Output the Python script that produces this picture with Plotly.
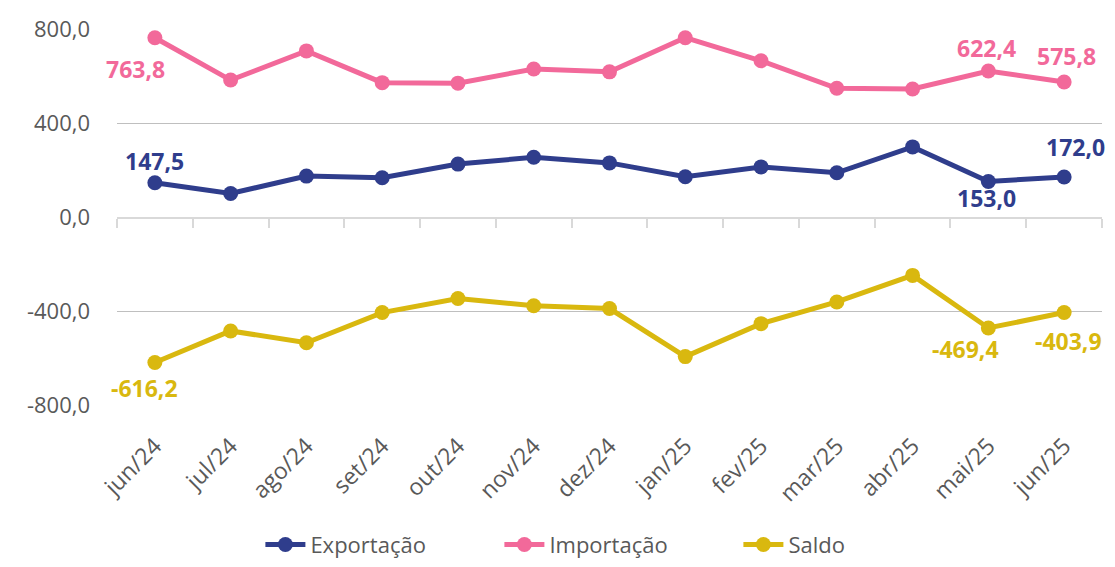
import plotly.graph_objects as go

categories = ["jun/24", "jul/24", "ago/24", "set/24", "out/24", "nov/24", "dez/24",
              "jan/25", "fev/25", "mar/25", "abr/25", "mai/25", "jun/25"]
exportacao = [147.5, 102.0, 176.0, 169.0, 227.0, 256.0, 232.0, 173.0, 215.0, 190.0, 300.0, 153.0, 172.0]
importacao = [763.8, 584.0, 708.0, 573.0, 571.0, 631.0, 619.0, 764.0, 666.0, 549.0, 546.0, 622.4, 575.8]
saldo = [-616.2, -482.0, -532.0, -404.0, -344.0, -375.0, -387.0, -591.0, -451.0, -359.0, -246.0, -469.4, -403.9]

y_tickvals = [800, 400, 0, -400, -800]
y_ticktext = ["800,0", "400,0", "0,0", "-400,0", "-800,0"]

# labelled points: index -> pixel offset of the label centre from the point (dx, dy up)
exp_labels = {0: (0, 22), 11: (-2, -17), 12: (11, 30)}
imp_labels = {0: (-19, -31), 11: (-2, 23), 12: (2, 26)}
sal_labels = {0: (-10, -25), 11: (-23, -21), 12: (4, -28)}

C_EXP = "#2f3d8c"
C_IMP = "#f2699a"
C_SAL = "#d9b80f"
GRAY = "#595959"
FONT = "Open Sans"


def fmt(v):
    return f"{v:.1f}".replace(".", ",")


fig = go.Figure()
annotations = []
for name, vals, color, labels in [
    ("Exportação", exportacao, C_EXP, exp_labels),
    ("Importação", importacao, C_IMP, imp_labels),
    ("Saldo", saldo, C_SAL, sal_labels),
]:
    fig.add_trace(go.Scatter(
        x=categories, y=vals, name=name,
        mode="lines+markers",
        line=dict(color=color, width=5),
        marker=dict(color=color, size=15),
        cliponaxis=False,
        hoverinfo="skip",
    ))
    for i, (dx, dy) in labels.items():
        annotations.append(dict(
            x=categories[i], y=vals[i], xref="x", yref="y",
            text=fmt(vals[i]), showarrow=False,
            xanchor="center", yanchor="middle", xshift=dx, yshift=dy,
            font=dict(family=FONT, size=23, color=color, weight="bold"),
        ))

# invisible trace for the tick-mark axis at y = 0
fig.add_trace(go.Scatter(x=categories, y=[0] * len(categories), xaxis="x2",
                         mode="lines", line=dict(width=0), showlegend=False,
                         hoverinfo="skip"))

fig.update_layout(
    width=1107, height=559,
    paper_bgcolor="white", plot_bgcolor="white",
    margin=dict(l=109, r=13, t=21, b=161, autoexpand=False),
    font=dict(family=FONT, color=GRAY),
    showlegend=True,
    annotations=annotations,
    legend=dict(orientation="h", xref="container", yref="container",
                x=0.228, xanchor="left", y=0.04, yanchor="middle",
                font=dict(family=FONT, size=22, color=GRAY), itemwidth=40,
                entrywidth=184, entrywidthmode="pixels",
                traceorder="normal"),
    xaxis=dict(type="category", range=[-0.5, 12.5], showgrid=False, showline=False,
               ticks="", tickangle=-45, tickfont=dict(family=FONT, size=23, color=GRAY),
               zeroline=False, automargin=False, ticklabelstandoff=21),
    xaxis2=dict(type="category", overlaying="x", anchor="free", position=0.5,
                range=[-0.5, 12.5], showline=True, linecolor="#d9d9d9", linewidth=2,
                ticks="outside", tickson="boundaries", ticklen=9, tickcolor="#d9d9d9",
                tickwidth=2, showticklabels=False, showgrid=False, side="bottom",
                automargin=False),
    yaxis=dict(range=[-801, 801], tickvals=y_tickvals, ticktext=y_ticktext,
               showgrid=True, gridcolor="#bfbfbf", gridwidth=1, zeroline=False,
               showline=False, tickfont=dict(family=FONT, size=22, color=GRAY),
               ticklabelstandoff=26, automargin=False),
)

fig.write_html("out.html")
